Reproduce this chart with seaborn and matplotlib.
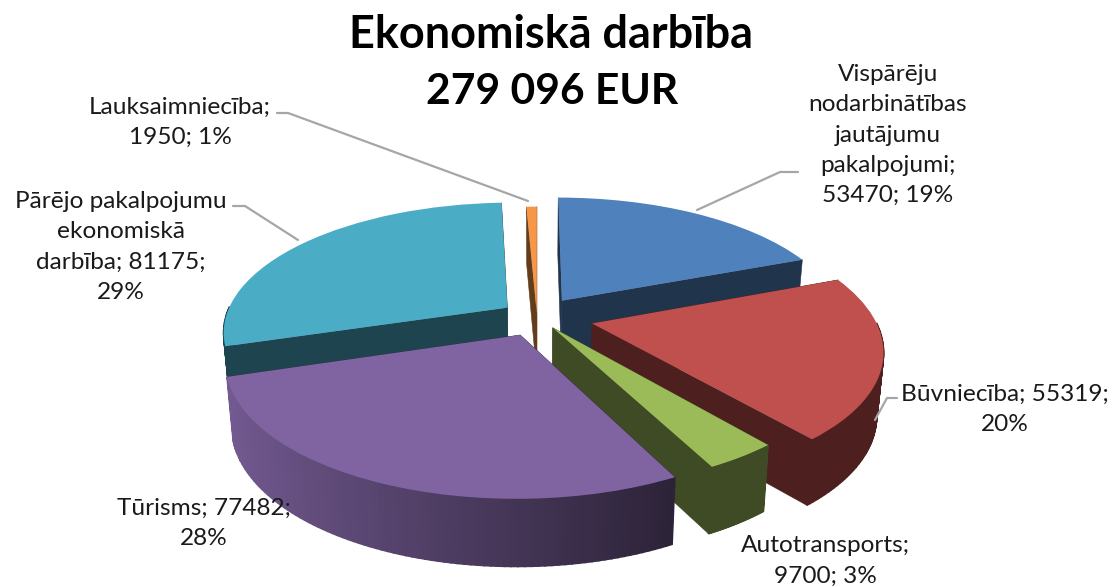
import numpy as np
import matplotlib
matplotlib.use("Agg")
import matplotlib.pyplot as plt
from matplotlib.transforms import Transform
import seaborn as sns

# ---- data ----
categories = ["Vispārējo nodarbinātības jautājumu pakalpojumi", "Būvniecība", "Autotransports",
              "Tūrisms", "Pārējo pakalpojumu ekonomiskā darbība", "Lauksaimniecība"]
values = [53470, 55319, 9700, 77482, 81175, 1950]
title_lines = ["Ekonomiskā darbība", "279 096 EUR"]
label_templates = ["Vispārēju\nnodarbinātības\njautājumu\npakalpojumi;\n{v}; {p}%",
                   "Būvniecība; {v};\n{p}%",
                   "Autotransports;\n{v}; {p}%",
                   "Tūrisms; {v};\n{p}%",
                   "Pārējo pakalpojumu\nekonomiskā\ndarbība; {v};\n{p}%",
                   "Lauksaimniecība;\n{v}; {p}%"]
explode = [0.16, 0.20, 0.10, 0.15, 0.13, 0.03]
colors = ["#4F81BD", "#C0504D", "#9BBB59", "#8064A2", "#4BACC6", "#F79646"]
draw_order = [5, 4, 0, 1, 2, 3]
gradient_side = [False, False, False, True, False, False]
label_xy = [(888, 135), (1005, 409), (825, 561), (204, 523), (121, 247), (180, 122)]
leaders = [[(798, 172), (780, 172), (697, 210)],
           [(897, 398), (887, 398), (875, 420)],
           [(233, 206), (245, 206), (298, 240)],
           [(277, 113), (288, 113), (528, 201)]]

# ---- theme ----
sns.set_theme(style="white")
plt.rcParams["font.family"] = ["Lato", "DejaVu Sans"]
palette = sns.color_palette(colors)

# ---- tilted-plane projection of the pie ----
CX, CY, A, B, P = 537.0, 317.0, 282.0, 127.0, 0.18


def project(x, y, z=0.0):
    x, y = np.asarray(x, float), np.asarray(y, float)
    w = 1 + P * y
    sx = A * x / w
    sy = -B * y / w
    h = 62.0 * (1 - 0.08 * y)
    return CX + sx * (1 - 0.02 * z), CY + sy + h * z


class Tilt(Transform):
    input_dims = 2
    output_dims = 2
    is_separable = False
    has_inverse = False

    def transform_non_affine(self, xy):
        xy = np.asarray(xy, float)
        sx, sy = project(xy[:, 0], xy[:, 1])
        return np.column_stack([sx, sy])


def shade(color, f):
    return tuple(np.clip(np.array(color[:3]) * f, 0, 1))


fig = plt.figure(figsize=(11.13, 5.87), dpi=100, facecolor="white")
ax = fig.add_axes([0, 0, 1, 1])

wedges, _ = ax.pie(values, explode=explode, colors=palette, startangle=90,
                   counterclock=False, radius=1.0, wedgeprops=dict(linewidth=0))
ax.set_aspect("auto")
ax.set_xlim(0, 1113)
ax.set_ylim(587, 0)
ax.axis("off")

tilt = Tilt() + ax.transData
for rank, i in enumerate(draw_order):
    w = wedges[i]
    base = 10 + rank * 3
    c0x, c0y = w.center
    t = np.radians(np.linspace(w.theta1, w.theta2, 90))
    ax_, ay_ = c0x + w.r * np.cos(t), c0y + w.r * np.sin(t)
    col = palette[i]
    # radial side walls
    for ang in (w.theta1, w.theta2):
        ex, ey = c0x + w.r * np.cos(np.radians(ang)), c0y + w.r * np.sin(np.radians(ang))
        a = project([c0x, ex], [c0y, ey], 0)
        b = project([c0x, ex], [c0y, ey], 1)
        ax.fill([a[0][0], a[0][1], b[0][1], b[0][0]], [a[1][0], a[1][1], b[1][1], b[1][0]],
                color=shade(col, 0.40), lw=0.4, zorder=base)
    # outer curved wall: only the part facing the viewer
    for k in range(len(t) - 1):
        if np.sin(t[k:k + 2]).mean() > 0:
            continue
        a = project(ax_[k:k + 2], ay_[k:k + 2], 0)
        b = project(ax_[k:k + 2], ay_[k:k + 2], 1)
        xm = ax_[k:k + 2].mean()
        f = np.interp(xm, [-1.05, 0.42], [0.92, 0.34]) if gradient_side[i] else 0.40
        ax.fill([a[0][0], a[0][1], b[0][1], b[0][0]], [a[1][0], a[1][1], b[1][1], b[1][0]],
                color=shade(col, f), lw=1.2, zorder=base + 1)
    # top face: the pie's own wedge, carried through the tilt
    w.set_transform(tilt)
    w.set_clip_on(False)
    w.set_zorder(base + 2)

# ---- leaders, labels, title ----
for pts in leaders:
    xs, ys = zip(*pts)
    ax.plot(xs, ys, color="#A6A6A6", lw=1.6, zorder=40, solid_capstyle="round")

total = sum(values)
for tpl, v, (x, y) in zip(label_templates, values, label_xy):
    ax.text(x, y, tpl.format(v=v, p=round(v / total * 100)), ha="center", va="center",
            multialignment="center", fontsize=17.6, color="#1A1A1A", linespacing=1.53, zorder=50)

ax.text(551, 35, title_lines[0], ha="center", va="center", fontsize=32.4,
        fontweight="bold", color="black", zorder=50)
ax.text(552, 92, title_lines[1], ha="center", va="center", fontsize=30.6,
        fontweight="bold", color="black", zorder=50)

fig.savefig("out.png", dpi=100, facecolor="white")
